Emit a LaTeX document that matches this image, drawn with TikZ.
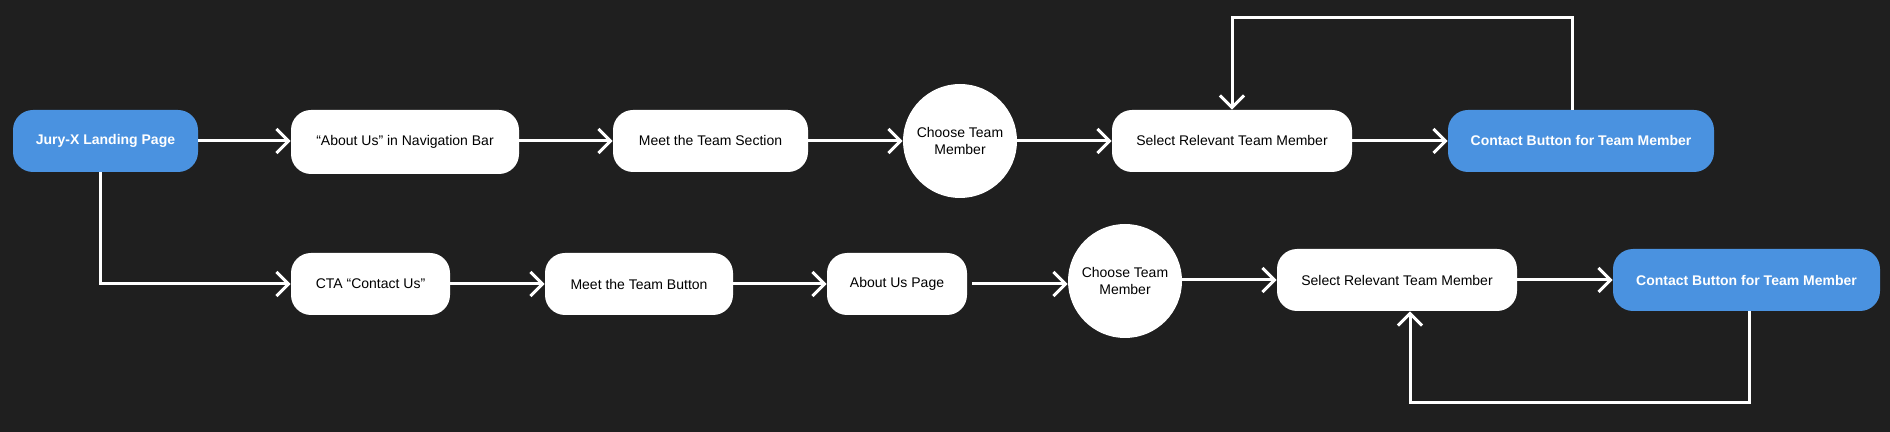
\documentclass[tikz,border=0pt]{standalone}
\usepackage{fontspec}
\setmainfont{Liberation Sans}
\usetikzlibrary{arrows.meta}
\definecolor{bg}{HTML}{1F1F1F}
\definecolor{blueb}{HTML}{4A92E0}
\begin{document}
\begin{tikzpicture}[x=0.5pt,y=-0.5pt,
  box/.style={fill=white, rounded corners=10pt, minimum height=31pt, inner sep=0pt,
    font=\fontsize{7}{8.4}\selectfont, text=black},
  bluebox/.style={box, fill=blueb, text=white, font=\fontsize{7}{8.4}\selectfont\bfseries},
  circ/.style={circle, fill=white, minimum size=57pt, inner sep=0pt, align=center,
    font=\fontsize{7}{8.4}\selectfont, text=black},
  flow/.style={draw=white, line width=1.5pt, -{Straight Barb[length=6pt,width=12pt,line width=1.5pt]}}]
\fill[bg] (0,0) rectangle (1890,432);
\useasboundingbox (0,0) rectangle (1890,432);
% top row
\node[bluebox, minimum width=92.5pt] (jury) at (105.5,141) {Jury-X Landing Page};
\node[box, minimum width=114pt, minimum height=32pt] (about) at (405,142) {“About Us” in Navigation Bar};
\node[box, minimum width=97.5pt] (meetsec) at (710.5,141) {Meet the Team Section};
\node[circ] (circ1) at (960,141) {Choose Team\\Member};
\node[box, minimum width=120pt] (sel1) at (1232,141) {Select Relevant Team Member};
\node[bluebox, minimum width=133pt] (con1) at (1581,141) {Contact Button for Team Member};
% bottom row
\node[box, minimum width=79.5pt] (cta) at (370.5,284) {CTA “Contact Us”};
\node[box, minimum width=94pt] (meetbtn) at (639,284) {Meet the Team Button};
\node[box, minimum width=70pt] (aboutpg) at (897,284) {About Us Page};
\node[circ] (circ2) at (1125,281) {Choose Team\\Member};
\node[box, minimum width=120pt] (sel2) at (1397,280) {Select Relevant Team Member};
\node[bluebox, minimum width=133.5pt] (con2) at (1746.5,280) {Contact Button for Team Member};
% connectors top
\draw[flow] (jury.east) -- (about.west |- jury.east);
\draw[flow] (about.east |- meetsec.west) -- (meetsec.west);
\draw[flow] (meetsec) -- (circ1);
\draw[flow] (circ1) -- (sel1);
\draw[flow] (sel1) -- (con1);
\coordinate (lt) at (0,18);
\coordinate (c1) at ([xshift=-4.5pt]con1.north);
\draw[flow] (c1) -- (c1 |- lt) -| (sel1.north);
% connectors bottom
\coordinate (j1) at ([xshift=-2.75pt]jury.south);
\draw[flow] (j1) |- (cta.west);
\draw[flow] (cta) -- (meetbtn);
\draw[flow] (meetbtn) -- (aboutpg);
\draw[flow] ([xshift=2.5pt]aboutpg.east) -- (aboutpg.east -| circ2.west);
\draw[flow] (circ2.east |- sel2.west) -- (sel2.west);
\draw[flow] (sel2) -- (con2);
\coordinate (lb) at (0,403);
\coordinate (c2) at ([xshift=1.25pt]con2.south);
\coordinate (s2) at ([xshift=6.5pt]sel2.south);
\draw[flow] (c2) -- (c2 |- lb) -| (s2);
\end{tikzpicture}
\end{document}
